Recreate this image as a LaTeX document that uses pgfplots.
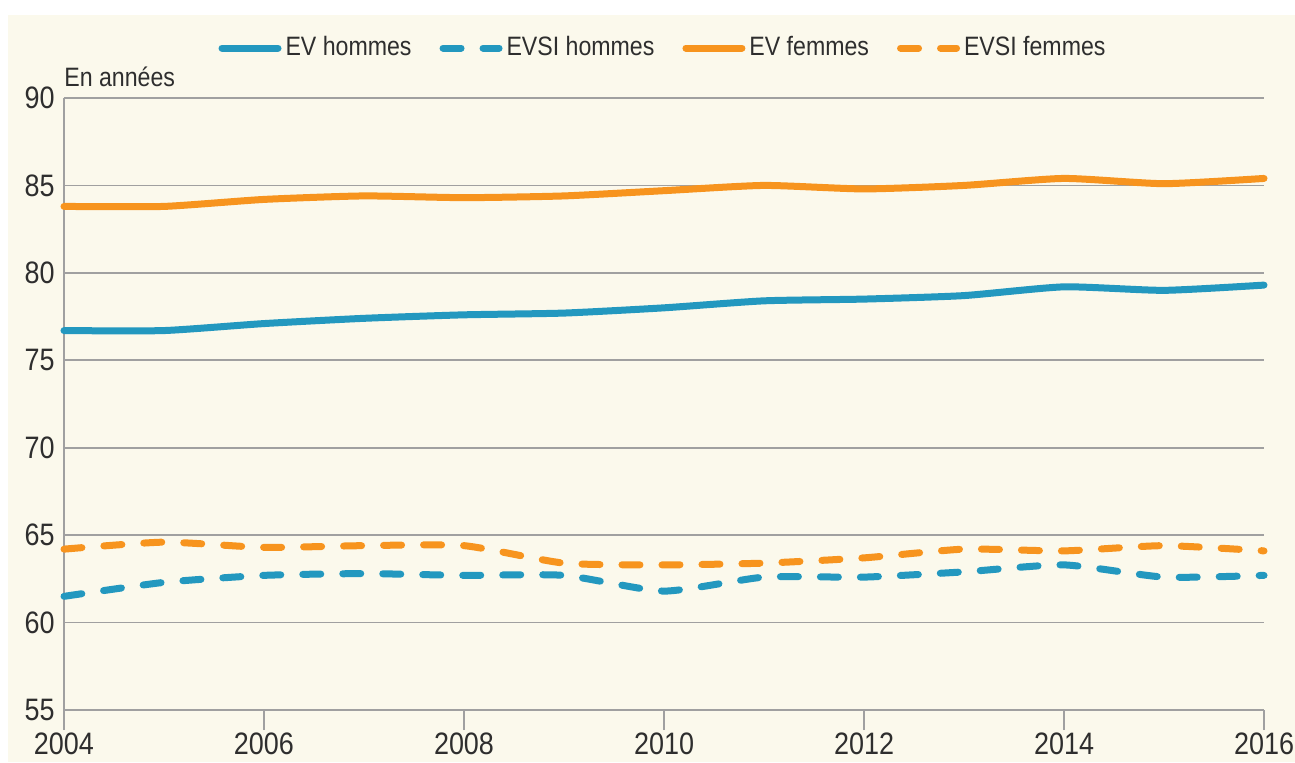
\documentclass[border=0pt]{standalone}
\usepackage{pgfplots}
\pgfplotsset{compat=1.18}
\usepackage{fontspec}
\setmainfont{Liberation Sans}[FakeStretch=0.87]
\definecolor{cream}{HTML}{FBF9EC}
\definecolor{evblue}{HTML}{2398BF}
\definecolor{evorange}{HTML}{F7941E}
\definecolor{txt}{HTML}{2E2E2E}
\definecolor{gridc}{HTML}{A0A0A0}
\begin{document}
\fontsize{13.3pt}{16pt}\selectfont
\begin{tikzpicture}
\fill[white] (-32pt,-26pt) rectangle (615.5pt,355pt);
\fill[cream] (-28pt,-26pt) rectangle (615.5pt,347.5pt);
\path[use as bounding box] (-32pt,-26pt) rectangle (615.5pt,355pt);
\begin{axis}[
  at={(0pt,0pt)}, anchor=south west,
  scale only axis, width=600pt, height=306pt,
  xmin=2004, xmax=2016, ymin=55, ymax=90,
  xtick={2004,2006,...,2016}, ytick={55,60,...,90},
  /pgf/number format/1000 sep={},
  /pgf/number format/assume math mode=true,
  axis x line=bottom, axis y line=left,
  axis line style={draw=gridc, line width=1pt, -},
  x axis line style={line width=1.3pt},
  ymajorgrids, grid style={draw=gridc, line width=0.8pt},
  tick align=outside,
  xtick style={draw=gridc, line width=1pt},
  ytick style={draw=none},
  major tick length=10pt,
  xticklabel style={text=txt, yshift=3pt},
  yticklabel style={text=txt, xshift=10pt},
  tick label style={font=\fontsize{15.5pt}{18pt}\selectfont},
  legend style={draw=none, fill=none, at={(0.5,1.0817)}, anchor=center,
    font=\fontsize{13.3pt}{16pt}\selectfont, text=txt,
    /tikz/every even column/.append style={column sep=12pt}},
  legend columns=4,
  legend image code/.code={\draw[#1] (0pt,0pt) -- (28pt,0pt);},
  clip=false,
]
\addplot[evblue, line width=3.5pt, line cap=round, line join=round, smooth, tension=0.35] coordinates {
(2004,76.7) (2005,76.7) (2006,77.1) (2007,77.4) (2008,77.6) (2009,77.7) (2010,78.0) (2011,78.4) (2012,78.5) (2013,78.7) (2014,79.2) (2015,79.0) (2016,79.3)};
\addlegendentry{EV hommes}
\addplot[evblue, line width=3.5pt, line cap=round, line join=round, dash pattern=on 9pt off 11pt, smooth, tension=0.35] coordinates {
(2004,61.5) (2005,62.3) (2006,62.7) (2007,62.8) (2008,62.7) (2009,62.7) (2010,61.8) (2011,62.6) (2012,62.6) (2013,62.9) (2014,63.3) (2015,62.6) (2016,62.7)};
\addlegendentry{EVSI hommes}
\addplot[evorange, line width=3.5pt, line cap=round, line join=round, smooth, tension=0.35] coordinates {
(2004,83.8) (2005,83.8) (2006,84.2) (2007,84.4) (2008,84.3) (2009,84.4) (2010,84.7) (2011,85.0) (2012,84.8) (2013,85.0) (2014,85.4) (2015,85.1) (2016,85.4)};
\addlegendentry{EV femmes}
\addplot[evorange, line width=3.5pt, line cap=round, line join=round, dash pattern=on 9pt off 11pt, smooth, tension=0.35] coordinates {
(2004,64.2) (2005,64.6) (2006,64.3) (2007,64.4) (2008,64.4) (2009,63.4) (2010,63.3) (2011,63.4) (2012,63.7) (2013,64.2) (2014,64.1) (2015,64.4) (2016,64.1)};
\addlegendentry{EVSI femmes}
\node[anchor=base west, text=txt, inner sep=0pt] at (rel axis cs:0,1) [yshift=6pt] {En années};
\end{axis}
\end{tikzpicture}
\end{document}
